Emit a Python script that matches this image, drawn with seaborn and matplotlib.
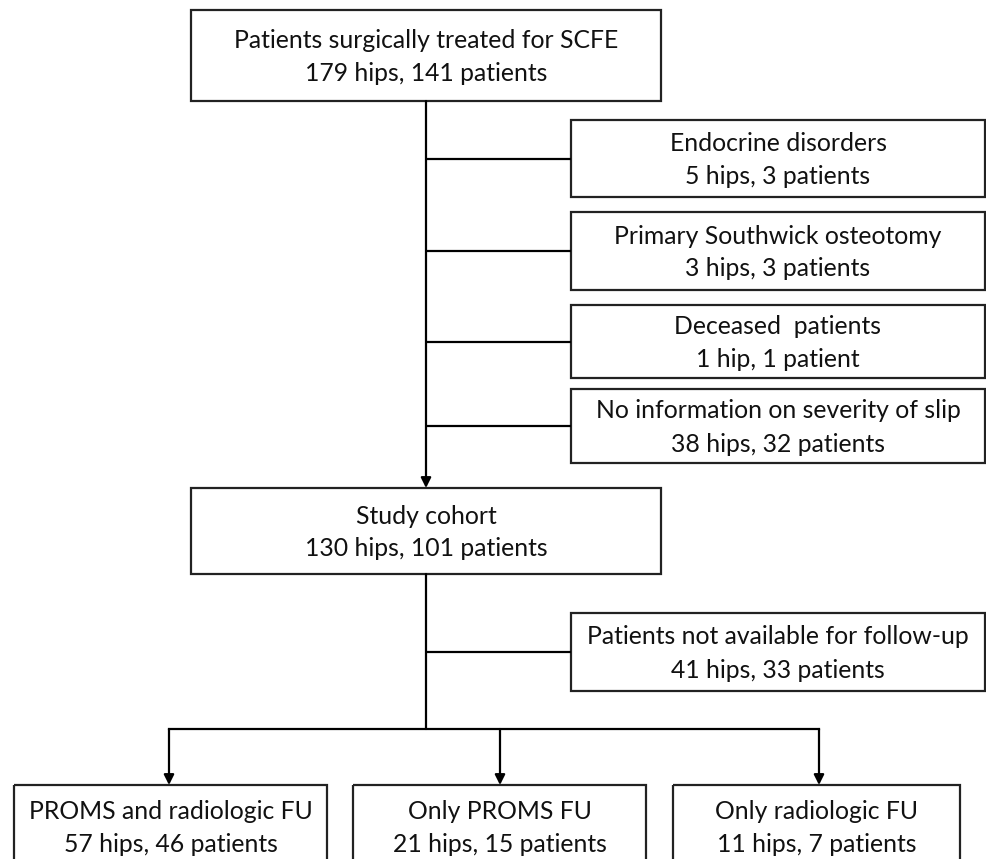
import matplotlib
matplotlib.use("Agg")
import matplotlib.pyplot as plt
from matplotlib.patches import Rectangle
import seaborn as sns

# flow chart content
stages = ["Patients surgically treated for SCFE", "Study cohort"]
stage_hips = [179, 130]
stage_patients = [141, 101]

excluded = ["Endocrine disorders", "Primary Southwick osteotomy", "Deceased  patients",
            "No information on severity of slip", "Patients not available for follow-up"]
excluded_hips = [5, 3, 1, 38, 41]
excluded_patients = [3, 3, 1, 32, 33]

groups = ["PROMS and radiologic FU", "Only PROMS FU", "Only radiologic FU"]
group_hips = [57, 21, 11]
group_patients = [46, 15, 7]


def counts(h, p):
    return f"{h} hip{'s' if h != 1 else ''}, {p} patient{'s' if p != 1 else ''}"


sns.set_theme(style="white")
plt.rcParams['font.family'] = ['Lato', 'DejaVu Sans']

W, H = 987, 859
fig = plt.figure(figsize=(W / 100, H / 100), dpi=100)
ax = fig.add_axes([0, 0, 1, 1])
ax.set_xlim(0, W)
ax.set_ylim(H, 0)
ax.axis("off")

LW = 1.6
FS = 17.8
INK = "#111111"

# layout (pixel boxes: x0, y0, x1, y1)
stage_boxes = [(191, 10, 661, 101), (191, 488, 661, 574)]
excl_boxes = [(571, 120, 985, 197), (571, 212, 985, 290), (571, 305, 985, 378),
              (571, 389, 985, 463), (571, 613, 985, 691)]
group_boxes = [(14, 785, 327, 868), (353, 785, 646, 868), (673, 785, 960, 868)]
spine_x = 426
split_y = 729
group_x = [169, 500, 819]


def box(b, title, sub):
    x0, y0, x1, y1 = b
    ax.add_patch(Rectangle((x0, y0), x1 - x0, y1 - y0, fill=False,
                           ec="#222222", lw=LW))
    cy = (y0 + y1) / 2
    ax.text((x0 + x1) / 2, cy - 15, title, ha="center", va="center",
            fontsize=FS, color=INK)
    ax.text((x0 + x1) / 2, cy + 18, sub, ha="center", va="center",
            fontsize=FS, color=INK)


def arrow(x, y0, y1):
    ax.annotate("", xy=(x, y1), xytext=(x, y0),
                arrowprops=dict(arrowstyle="-|>", color="black", lw=LW,
                                mutation_scale=15, shrinkA=0, shrinkB=0))


for b, t, h, p in zip(stage_boxes, stages, stage_hips, stage_patients):
    box(b, t, counts(h, p))
for b, t, h, p in zip(excl_boxes, excluded, excluded_hips, excluded_patients):
    box(b, t, counts(h, p))
    cy = (b[1] + b[3]) / 2
    ax.plot([spine_x, b[0]], [cy, cy], color="black", lw=LW, solid_capstyle="butt")
for b, t, h, p in zip(group_boxes, groups, group_hips, group_patients):
    box(b, t, counts(h, p))

# spine connections
arrow(spine_x, stage_boxes[0][3], stage_boxes[1][1])
ax.plot([spine_x, spine_x], [stage_boxes[1][3], split_y], color="black", lw=LW)
ax.plot([group_x[0], group_x[-1]], [split_y, split_y], color="black", lw=LW,
        solid_capstyle="projecting")
for gx, b in zip(group_x, group_boxes):
    arrow(gx, split_y, b[1])

fig.savefig("out.png", dpi=100, facecolor="white")
